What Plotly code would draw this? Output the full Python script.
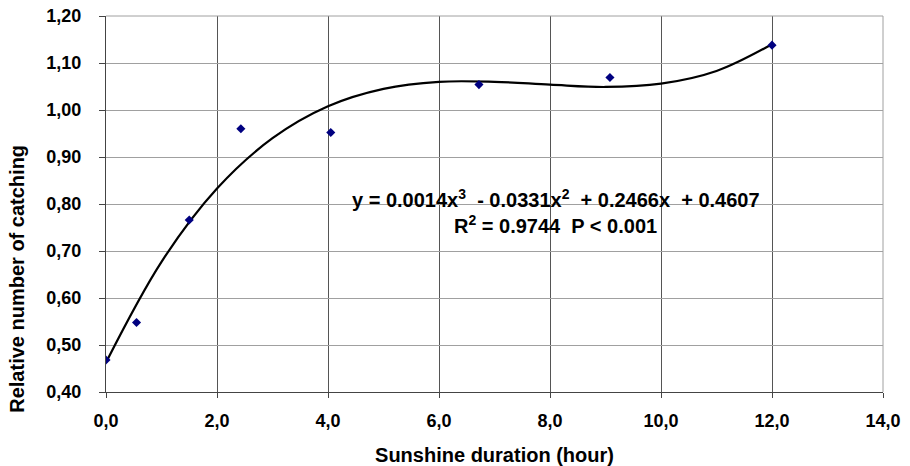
import plotly.graph_objects as go

# observed data points
sun_hours = [0.0, 0.55, 1.5, 2.43, 4.05, 6.72, 9.08, 12.0]
rel_catch = [0.468, 0.548, 0.766, 0.960, 0.952, 1.054, 1.069, 1.138]

# trendline
trend_x = [0, 1, 2, 3, 4, 5, 6, 7, 8, 9, 10, 11, 12]
trend_y = [0.463, 0.677, 0.833, 0.940, 1.008, 1.045, 1.060, 1.060, 1.054, 1.049,
           1.056, 1.083, 1.140]

x_ticks = [0, 2, 4, 6, 8, 10, 12, 14]
y_ticks = [0.4, 0.5, 0.6, 0.7, 0.8, 0.9, 1.0, 1.1, 1.2]

eq_line1 = "y = 0.0014x<sup>3</sup>  - 0.0331x<sup>2</sup>  + 0.2466x  + 0.4607"
eq_line2 = "R<sup>2</sup> = 0.9744  P < 0.001"
y_title = "Relative number of catching"
x_title = "Sunshine duration (hour)"

FONT = "Liberation Sans, Arial, sans-serif"

fig = go.Figure()
fig.add_trace(go.Scatter(x=trend_x, y=trend_y, mode="lines",
                         line=dict(color="black", width=2.2, shape="spline", smoothing=1.0),
                         hoverinfo="skip", showlegend=False))
fig.add_trace(go.Scatter(x=sun_hours, y=rel_catch, mode="markers",
                         marker=dict(symbol="diamond", size=7, color="#000080"),
                         showlegend=False))
# invisible trace carrying the tick-mark axis
fig.add_trace(go.Scatter(x=sun_hours, y=rel_catch, yaxis="y2", mode="markers",
                         marker=dict(size=1, opacity=0), hoverinfo="skip", showlegend=False))

fig.add_annotation(x=8.1, y=0.811, xref="x", yref="y", text="<b>" + eq_line1 + "</b>",
                   showarrow=False, font=dict(family=FONT, size=20, color="black"))
fig.add_annotation(x=8.1, y=0.757, xref="x", yref="y", text="<b>" + eq_line2 + "</b>",
                   showarrow=False, font=dict(family=FONT, size=20, color="black"))
# y-axis title (sits lower than the axis centre, as in the reference)
fig.add_annotation(x=-0.1145, y=0.641, xref="paper", yref="y", text="<b>" + y_title + "</b>",
                   textangle=-90, showarrow=False, xanchor="center", yanchor="middle",
                   font=dict(family=FONT, size=20, color="black"))

fig.update_layout(
    width=910, height=466,
    margin=dict(l=106, r=27, t=16, b=74),
    paper_bgcolor="white", plot_bgcolor="white",
    separators=", ",
    font=dict(family=FONT, color="black"),
    xaxis=dict(range=[0, 14], tickvals=x_ticks, tickformat=".1f", automargin=False,
               showgrid=True, gridcolor="#555555", gridwidth=1,
               zeroline=False, showline=True, linecolor="#444444", linewidth=1,
               mirror=False, ticks="outside", ticklen=5, tickcolor="#444444",
               ticklabelstandoff=7,
               tickfont=dict(family=FONT, size=18, weight="bold"),
               title=dict(text="<b>" + x_title + "</b>",
                          font=dict(family=FONT, size=20), standoff=20)),
    yaxis=dict(range=[0.4, 1.2], tickvals=y_ticks, tickformat=".2f", automargin=False,
               showgrid=True, gridcolor="#a0a0a0", gridwidth=1,
               zeroline=False, showline=True, linecolor="#444444", linewidth=1,
               ticks="outside", ticklen=20, tickcolor="rgba(0,0,0,0)",
               tickfont=dict(family=FONT, size=18, weight="bold")),
    yaxis2=dict(range=[0.4, 1.2], tickvals=y_ticks, overlaying="y", side="left",
                anchor="x", showgrid=False, zeroline=False, showline=False,
                ticks="outside", ticklen=6, tickcolor="#444444",
                showticklabels=False, automargin=False),
    shapes=[dict(type="line", xref="paper", yref="paper", x0=0, x1=1, y0=1, y1=1,
                 line=dict(color="#a0a0a0", width=1)),
            dict(type="line", xref="paper", yref="paper", x0=1, x1=1, y0=0, y1=1,
                 line=dict(color="#a0a0a0", width=1))],
)

fig.write_html("out.html")
